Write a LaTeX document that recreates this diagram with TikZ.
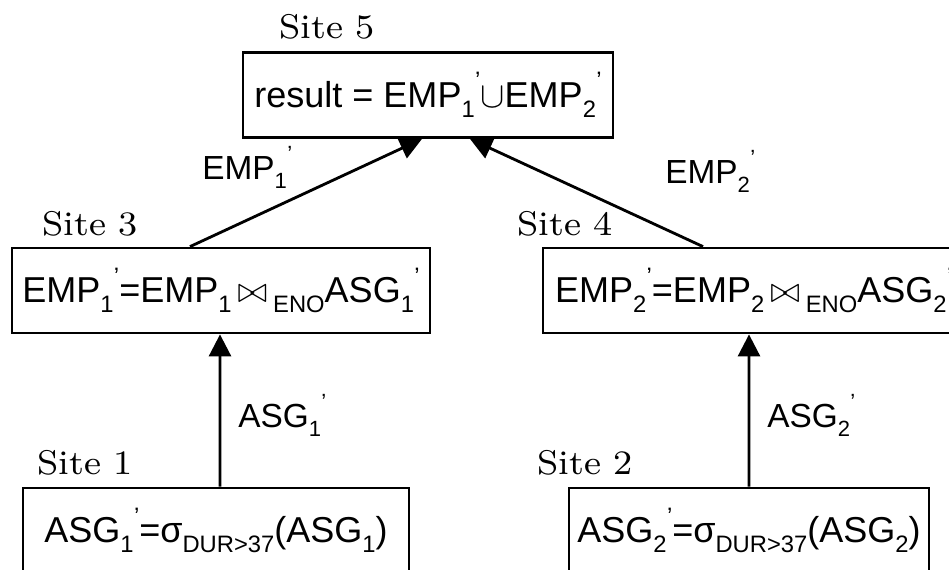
\documentclass[tikz,border=0pt]{standalone}
\usepackage{fontspec}
\setmainfont{Liberation Sans}
\newfontfamily\sitefont{lmroman8-regular.otf}[FakeStretch=1.05]
\usetikzlibrary{arrows.meta}

% lowered subscript, and the same with a prime on top of it
\newcommand{\sub}[1]{\raisebox{-0.28em}{\scalebox{0.66}{#1}}}
\newcommand{\subpr}[1]{\sub{#1}\kern0.01em\raisebox{0.52em}{\scalebox{0.66}{’}}}

\tikzset{
  relbox/.style={draw, line width=1.6pt, fill=white, minimum height=1.7cm, inner sep=0pt, font=\fontsize{20.5}{24}\selectfont},
  sitelabel/.style={anchor=base west, inner sep=0pt, font=\sitefont\fontsize{19.5}{22}\selectfont},
  flowlabel/.style={anchor=base west, inner sep=0pt, font=\fontsize{19}{22}\selectfont},
  flow/.style={line width=1.6pt, -{Triangle[length=0.44cm,width=0.44cm]}}
}

\begin{document}
\begin{tikzpicture}[x=0.02cm, y=-0.02cm]
\useasboundingbox (0,0) rectangle (949,569);
\clip (0,0) rectangle (949,569);

% Relations computed at each site
\node[relbox, minimum width=7.4cm] (res) at (428,95) {result = EMP\subpr{1}$\cup$EMP\subpr{2}};
\node[relbox, minimum width=8.36cm] (emp1) at (221,290.5) {EMP\subpr{1}=EMP\sub{1}\,$\bowtie$\,\sub{ENO}ASG\subpr{1}};
\node[relbox, inner xsep=0.24cm, text width=8.52cm, align=left] (emp2) at (768,290.5) {EMP\subpr{2}=EMP\sub{2}\,$\bowtie$\,\sub{ENO}ASG\subpr{2}};
\node[relbox, minimum width=7.72cm] (asg1) at (216,530.5) {ASG\subpr{1}=σ\sub{DUR>37}(ASG\sub{1})};
\node[relbox, minimum width=7.2cm] (asg2) at (749,530.5) {ASG\subpr{2}=σ\sub{DUR>37}(ASG\sub{2})};

% Site names
\node[sitelabel] (site5) at (279,38) {Site 5};
\node[sitelabel] (site3) at (42,235) {Site 3};
\node[sitelabel] (site4) at (517,235) {Site 4};
\node[sitelabel] (site1) at (37,474) {Site 1};
\node[sitelabel] (site2) at (537,474) {Site 2};

% Transfers between sites
\draw[flow] ([xshift=0.08cm]asg1.north) -- ([xshift=-0.02cm]emp1.south);
\draw[flow] (asg2.north) -- ([xshift=-0.38cm]emp2.south);
\draw[flow] ([xshift=-0.62cm]emp1.north) -- ([xshift=-0.12cm]res.south);
\draw[flow] ([xshift=-1.3cm]emp2.north) -- ([xshift=0.84cm]res.south);

% Transferred relations
\node[flowlabel] (lemp1) at (202,179) {EMP\subpr{1}};
\node[flowlabel] (lemp2) at (665,183) {EMP\subpr{2}};
\node[flowlabel] (lasg1) at (238,427) {ASG\subpr{1}};
\node[flowlabel] (lasg2) at (767,427) {ASG\subpr{2}};
\end{tikzpicture}
\end{document}
